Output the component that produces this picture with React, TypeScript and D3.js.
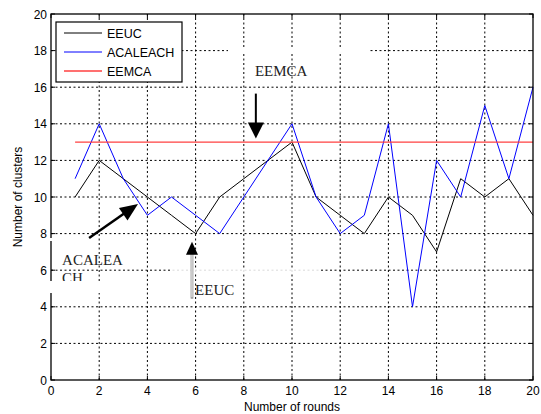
import * as d3 from 'd3';

const rounds = d3.range(1, 21);
const eeuc = [10, 12, 11, 10, 9, 8, 10, 11, 12, 13, 10, 9, 8, 10, 9, 7, 11, 10, 11, 9];
const acaleach = [11, 14, 11, 9, 10, 9, 8, 10, 12, 14, 10, 8, 9, 14, 4, 12, 10, 15, 11, 16];
const eemca = rounds.map(() => 13);

const xTicks = [0, 2, 4, 6, 8, 10, 12, 14, 16, 18, 20];
const yTicks = [0, 2, 4, 6, 8, 10, 12, 14, 16, 18, 20];

const series = [
  { name: 'EEUC', values: eeuc, color: '#000000', width: 1 },
  { name: 'ACALEACH', values: acaleach, color: '#0000ff', width: 1 },
  { name: 'EEMCA', values: eemca, color: '#ff4040', width: 1.4 },
];

const W = 541;
const H = 414;
const M = { left: 51, right: 8, top: 14, bottom: 34 };

function arrowHead(x1: number, y1: number, x2: number, y2: number, len: number, half: number) {
  // triangle pointing from (x1,y1) towards (x2,y2), tip at (x2,y2)
  const a = Math.atan2(y2 - y1, x2 - x1);
  const bx = x2 - len * Math.cos(a);
  const by = y2 - len * Math.sin(a);
  const px = -Math.sin(a) * half;
  const py = Math.cos(a) * half;
  return `M${x2},${y2}L${bx + px},${by + py}L${bx - px},${by - py}Z`;
}

export default function App() {
  const x = d3.scaleLinear().domain([0, 20]).range([M.left, W - M.right]);
  const y = d3.scaleLinear().domain([0, 20]).range([H - M.bottom, M.top]);
  const line = d3
    .line<number>()
    .x((_, i) => x(rounds[i]))
    .y((d) => y(d));

  const x0 = x(0), x1 = x(20), y0 = y(0), y1 = y(20);

  // annotation arrows (data units)
  const aE = { x1: 8.5, y1: 15.65, x2: 8.5, y2: 13.2 };
  const aA = { x1: 1.58, y1: 7.76, x2: 3.61, y2: 9.62 };
  const aU = { x1: 5.85, y1: 4.45, x2: 5.85, y2: 7.55 };

  return (
    <div style={{ position: 'absolute', left: 0, top: 0 }}>
      <svg width={W} height={H} style={{ display: 'block', background: '#fff' }}>
        {/* grid */}
        <g stroke="#000" strokeWidth={1} strokeDasharray="2,2.5">
          {xTicks.slice(1, -1).map((t) => (
            <line key={'gx' + t} x1={x(t)} x2={x(t)} y1={y0} y2={y1} />
          ))}
          {yTicks.slice(1, -1).map((t) => (
            <line key={'gy' + t} x1={x0} x2={x1} y1={y(t)} y2={y(t)} />
          ))}
        </g>
        {/* erased patches of grid */}
        <rect x={228} y={y(18) - 2} width={142} height={4} fill="#fff" />
        <rect x={172} y={y(6) - 2} width={148} height={4} fill="#fff" opacity={0.85} />

        {/* ticks */}
        <g stroke="#000" strokeWidth={1}>
          {xTicks.map((t) => (
            <g key={'tx' + t}>
              <line x1={x(t)} x2={x(t)} y1={y0} y2={y0 - 4} />
              <line x1={x(t)} x2={x(t)} y1={y1} y2={y1 + 4} />
            </g>
          ))}
          {yTicks.map((t) => (
            <g key={'ty' + t}>
              <line x1={x0} x2={x0 + 4} y1={y(t)} y2={y(t)} />
              <line x1={x1} x2={x1 - 4} y1={y(t)} y2={y(t)} />
            </g>
          ))}
        </g>

        {/* series */}
        {series.map((s) => (
          <path key={s.name} d={line(s.values) ?? ''} fill="none" stroke={s.color} strokeWidth={s.width} />
        ))}

        {/* axes box */}
        <rect x={x0} y={y1} width={x1 - x0} height={y0 - y1} fill="none" stroke="#000" strokeWidth={1.3} />

        {/* tick labels */}
        <g fontFamily="Liberation Sans, Arial, sans-serif" fontSize={12} fill="#000">
          {xTicks.map((t) => (
            <text key={'lx' + t} x={x(t)} y={y0 + 15} textAnchor="middle">
              {t}
            </text>
          ))}
          {yTicks.map((t) => (
            <text key={'ly' + t} x={x0 - 4} y={y(t) + 4.5} textAnchor="end">
              {t}
            </text>
          ))}
        </g>
        <g fontFamily="Liberation Sans, Arial, sans-serif" fontSize={12} fill="#000">
          <text x={(x0 + x1) / 2} y={H - 3} textAnchor="middle">
            Number of rounds
          </text>
          <text transform={`translate(22,${(y0 + y1) / 2}) rotate(-90)`} textAnchor="middle">
            Number of clusters
          </text>
        </g>

        {/* legend */}
        <g fontFamily="Liberation Sans, Arial, sans-serif" fontSize={12.5}>
          <rect x={56} y={22} width={126} height={60} fill="#fff" stroke="#000" strokeWidth={1.2} />
          {series.map((s, i) => (
            <g key={'lg' + s.name}>
              <line x1={64} x2={102} y1={33 + i * 19} y2={33 + i * 19} stroke={s.color} strokeWidth={s.width} />
              <text x={107} y={37.5 + i * 19}>
                {s.name}
              </text>
            </g>
          ))}
        </g>

        {/* annotations */}
        <g fontFamily="Liberation Serif, Times New Roman, serif" fontSize={15} fill="#222">
          <text x={x(8.46)} y={y(16.6)}>EEMCA</text>
          <line x1={x(aE.x1)} y1={y(aE.y1)} x2={x(aE.x2)} y2={y(aE.y2 + 0.5)} stroke="#000" strokeWidth={2} />
          <path d={arrowHead(x(aE.x1), y(aE.y1), x(aE.x2), y(aE.y2), 16, 8)} fill="#000" />

          <line x1={x(aA.x1)} y1={y(aA.y1)} x2={x(aA.x2) - 6} y2={y(aA.y2) + 4} stroke="#000" strokeWidth={2.5} />
          <path d={arrowHead(x(aA.x1), y(aA.y1), x(aA.x2), y(aA.y2), 18, 7.5)} fill="#000" />
          <text x={x(0.46)} y={y(6.28)}>ACALEA</text>
          <text x={x(0.46)} y={y(5.3)}>CH</text>
          <rect x={40} y={y(5.3) - 2} width={60} height={12} fill="#fff" />
          <rect x={48} y={238} width={8} height={3} fill="#fff" />

          <line x1={x(aU.x1)} y1={y(aU.y1)} x2={x(aU.x2)} y2={y(aU.y2 - 0.6)} stroke="#777" strokeWidth={2.6} />
          <line x1={x(aU.x1)} y1={y(aU.y1) - 1} x2={x(aU.x2)} y2={y(aU.y2 - 0.6)} stroke="#fff" strokeWidth={1.2} />
          <path d={arrowHead(x(aU.x1), y(aU.y1), x(aU.x2), y(aU.y2), 13, 6)} fill="#000" />
          <text x={x(5.98)} y={y(4.64)}>EEUC</text>
        </g>
      </svg>
    </div>
  );
}
